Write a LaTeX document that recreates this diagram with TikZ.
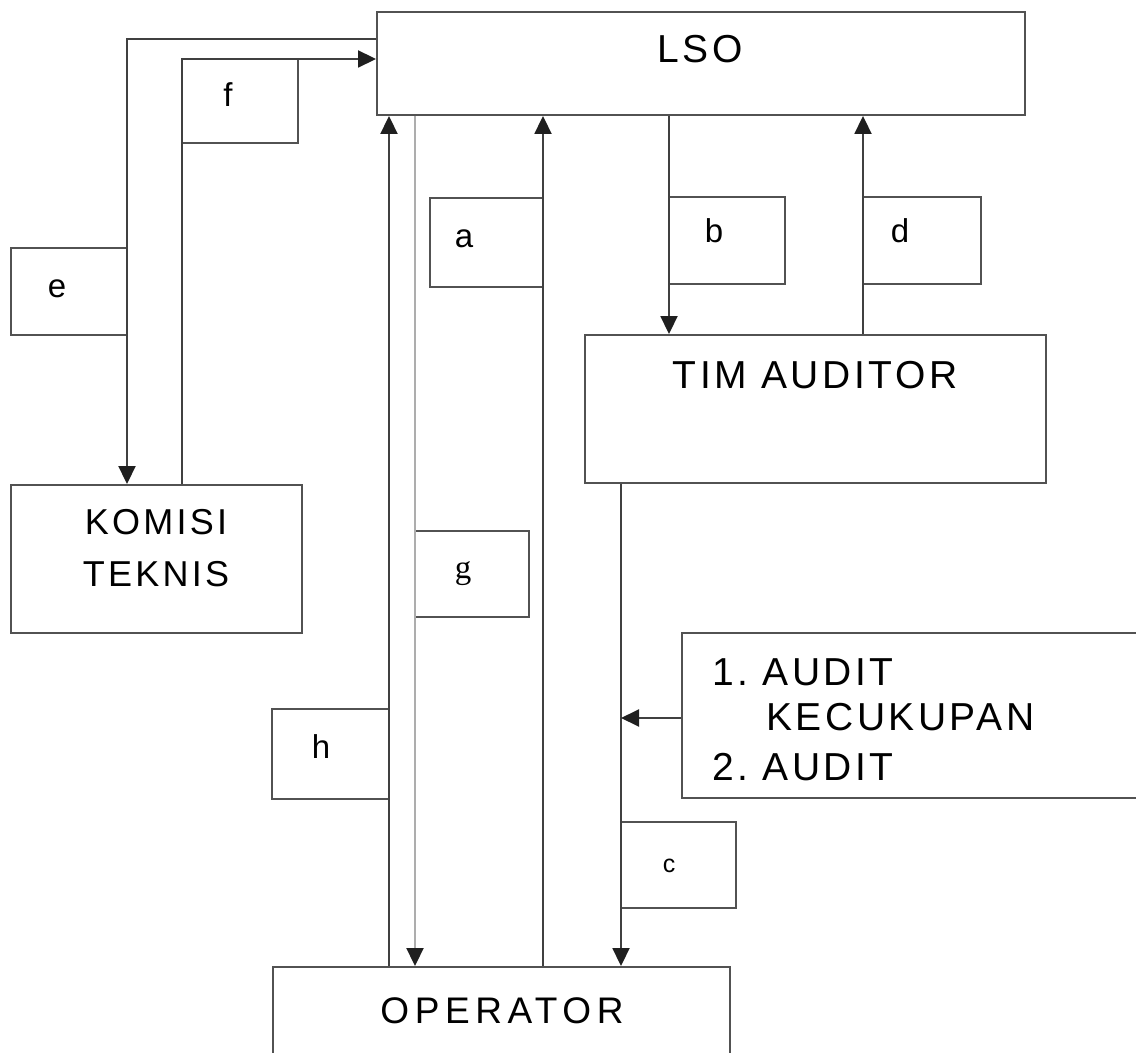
\documentclass[tikz,border=0pt]{standalone}
\usepackage{fontspec}
\setmainfont{Liberation Sans}
\newfontfamily\lsfont[LetterSpace=9]{Liberation Sans}
\newfontfamily\opfont[LetterSpace=15]{Liberation Sans}
\newfontfamily\serlab{Liberation Serif}
\usetikzlibrary{arrows.meta,fit}
\begin{document}
\begin{tikzpicture}[x=0.5pt,y=-0.5pt,
  box/.style={draw=black!68, line width=0.95pt, inner sep=0pt},
  conn/.style={draw=black!75, line width=0.95pt, -{Triangle[length=9pt,width=8.5pt,color=black!88]}},
  gconn/.style={conn, draw=black!32},
  big/.style={font=\lsfont\fontsize{19.5}{23}\selectfont, inner sep=0pt},
  mid/.style={font=\lsfont\fontsize{18}{22}\selectfont, inner sep=0pt, anchor=base},
  lab/.style={font=\fontsize{16.5}{20}\selectfont, inner sep=0pt, anchor=base}
]
\useasboundingbox (0,0) rectangle (1136,1053);
\clip (0,0) rectangle (1136,1053);

% coordinates for connector lanes
\coordinate (xe) at (127,0);
\coordinate (xf) at (182,0);
\coordinate (xh) at (389,0);
\coordinate (xg) at (415,0);
\coordinate (xa) at (543,0);
\coordinate (xc) at (621,0);
\coordinate (xb) at (669,0);
\coordinate (xd) at (863,0);
\coordinate (ye) at (0,39);
\coordinate (yf) at (0,59);
\coordinate (yaud) at (0,718);

% main boxes
\node[box, fit={(377,12) (1025,115)}] (lso) {};
\node[box, fit={(585,335) (1046,483)}] (tim) {};
\node[box, fit={(11,485) (302,633)}] (komisi) {};
\node[box, fit={(682,633) (1170,798)}] (audit) {};
\node[box, fit={(273,967) (730,1080)}] (oper) {};

% main texts
\node[big] (tlso) at (700,49) {LSO};
\node[big] (ttim) at (815,375) {TIM AUDITOR};
\node[mid] (tkom1) at (156,535) {KOMISI};
\node[mid] (tkom2) at (156,587) {TEKNIS};
\node[mid, font=\opfont\fontsize{18.5}{22}\selectfont] (toper) at (502,1023) {OPERATOR};
\node[big, anchor=base west] (aud1) at (712,685) {1.\ AUDIT};
\node[big, anchor=base west] (aud2) at (766,730) {KECUKUPAN};
\node[big, anchor=base west] (aud3) at (712,780) {2.\ AUDIT};

% label boxes
\node[box, fit={(11,248) (127,335)}] (boxe) {};
\node[box, fit={(182,59) (298,143)}] (boxf) {};
\node[box, fit={(430,198) (543,287)}] (boxa) {};
\node[box, fit={(669,197) (785,284)}] (boxb) {};
\node[box, fit={(863,197) (981,284)}] (boxd) {};
\node[box, fit={(415,531) (529,617)}] (boxg) {};
\node[box, fit={(272,709) (389,799)}] (boxh) {};
\node[box, fit={(621,822) (736,908)}] (boxc) {};

% labels
\node[lab] (le) at (57,298) {e};
\node[lab] (lf) at (228,107) {f};
\node[lab] (la) at (464,248) {a};
\node[lab] (lb) at (714,243) {b};
\node[lab] (ld) at (900,243) {d};
\node[lab, font=\serlab\fontsize{16.5}{20}\selectfont] (lg) at (463,579) {g};
\node[lab] (lh) at (321,758) {h};
\node[lab, font=\fontsize{12.5}{15}\selectfont] (lc) at (669,872) {c};

% connectors
\draw[conn] (lso.west |- ye) -| (komisi.north -| xe);
\draw[conn] (komisi.north -| xf) |- (lso.west |- yf);
\draw[conn] (oper.north -| xh) -- (lso.south -| xh);
\draw[gconn] (lso.south -| xg) -- (oper.north -| xg);
\draw[conn] (oper.north -| xa) -- (lso.south -| xa);
\draw[conn] (lso.south -| xb) -- (tim.north -| xb);
\draw[conn] (tim.north -| xd) -- (lso.south -| xd);
\draw[conn] (tim.south -| xc) -- (oper.north -| xc);
\draw[conn] (audit.west |- yaud) -- (yaud -| xc);
\end{tikzpicture}
\end{document}
